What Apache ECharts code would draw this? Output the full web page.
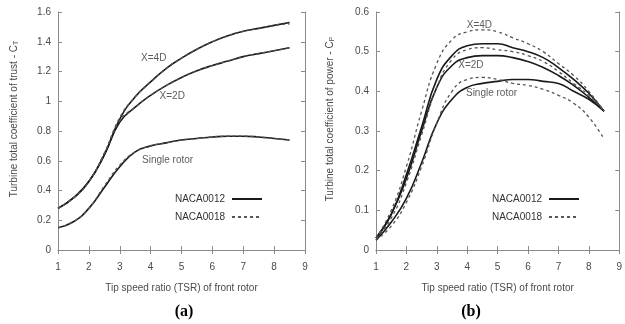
<!DOCTYPE html>
<html>
<head>
<meta charset="utf-8">
<script src="https://cdn.jsdelivr.net/npm/echarts@6/dist/echarts.min.js"></script>
<style>
  html, body { margin: 0; padding: 0; background: #fff; }
  #chart { width: 625px; height: 324px; }
</style>
</head>
<body>
<div id="chart"></div>
<script>
// tip speed ratio samples (x)
const tsr = [1, 1.5, 2, 2.5, 3, 3.5, 4, 4.5, 5, 5.5, 6, 6.5, 7, 7.5, 8, 8.5];

// (a) thrust coefficient C_T
const ct4D12 = [0.28, 0.35, 0.46, 0.64, 0.88, 1.03, 1.13, 1.22, 1.29, 1.35, 1.40, 1.44, 1.47, 1.49, 1.51, 1.53];
const ct2D12 = [0.28, 0.35, 0.46, 0.64, 0.86, 0.96, 1.04, 1.105, 1.16, 1.205, 1.24, 1.27, 1.30, 1.32, 1.34, 1.36];
const ctSingle12 = [0.15, 0.19, 0.28, 0.42, 0.56, 0.66, 0.70, 0.72, 0.74, 0.75, 0.76, 0.765, 0.765, 0.76, 0.75, 0.74];
const ct4D18 = [0.28, 0.35, 0.46, 0.65, 0.89, 1.03, 1.13, 1.22, 1.29, 1.35, 1.40, 1.44, 1.47, 1.49, 1.51, 1.52];
const ct2D18 = [0.28, 0.35, 0.46, 0.65, 0.87, 0.96, 1.04, 1.105, 1.16, 1.205, 1.24, 1.27, 1.30, 1.32, 1.34, 1.36];
const ctSingle18 = [0.15, 0.19, 0.28, 0.43, 0.57, 0.66, 0.70, 0.72, 0.74, 0.75, 0.76, 0.765, 0.765, 0.76, 0.75, 0.74];

// (b) power coefficient C_P
const cp4D12 = [0.03, 0.09, 0.19, 0.31, 0.43, 0.49, 0.515, 0.52, 0.52, 0.51, 0.50, 0.485, 0.46, 0.43, 0.395, 0.35];
const cp2D12 = [0.03, 0.09, 0.18, 0.30, 0.41, 0.465, 0.485, 0.49, 0.49, 0.485, 0.475, 0.46, 0.44, 0.415, 0.385, 0.35];
const cpSingle12 = [0.025, 0.07, 0.13, 0.22, 0.32, 0.38, 0.41, 0.42, 0.425, 0.43, 0.43, 0.425, 0.42, 0.40, 0.38, 0.35];
const cp4D18 = [0.03, 0.10, 0.21, 0.35, 0.47, 0.53, 0.55, 0.555, 0.55, 0.535, 0.52, 0.50, 0.47, 0.44, 0.40, 0.35];
const cp2D18 = [0.03, 0.08, 0.17, 0.29, 0.41, 0.48, 0.505, 0.51, 0.505, 0.50, 0.49, 0.475, 0.45, 0.42, 0.39, 0.35];
const cpSingle18 = [0.025, 0.06, 0.12, 0.21, 0.32, 0.40, 0.43, 0.435, 0.43, 0.42, 0.415, 0.405, 0.39, 0.37, 0.335, 0.28];

const legendNames = ['NACA0012', 'NACA0018'];
const xTitle = 'Tip speed ratio (TSR) of front rotor';

// curve annotations: [text, tsr, value]
const notesA = [['X=4D', 4.1, 1.29], ['X=2D', 4.7, 1.035], ['Single rotor', 4.55, 0.605]];
const notesB = [['X=4D', 4.4, 0.567], ['X=2D', 4.12, 0.466], ['Single rotor', 4.8, 0.396]];

const chart = echarts.init(document.getElementById('chart'));
const zip = (ys) => tsr.map((x, i) => [x, ys[i]]);
const gray = '#4a4a4a';
const frame = '#8a8a8a';

function solid(ys, idx) {
  return {
    type: 'line', name: legendNames[0], data: zip(ys), smooth: 0.5, symbol: 'none',
    xAxisIndex: idx * 2, yAxisIndex: idx * 2,
    lineStyle: { color: '#1a1a1a', width: 1.6 }, itemStyle: { color: '#1a1a1a' }, z: 3,
  };
}
function dashed(ys, idx) {
  return {
    type: 'line', name: legendNames[1], data: zip(ys), smooth: 0.5, symbol: 'none',
    xAxisIndex: idx * 2, yAxisIndex: idx * 2,
    lineStyle: { color: '#555', width: 1.3, type: [3, 3] }, itemStyle: { color: '#555' }, z: 4,
  };
}
function notes(list, idx) {
  return {
    type: 'scatter', xAxisIndex: idx * 2, yAxisIndex: idx * 2, symbolSize: 0, silent: true,
    data: list.map((n) => ({ value: [n[1], n[2]], name: n[0] })),
    label: { show: true, position: 'inside', formatter: '{b}', color: '#333', fontSize: 10, fontFamily: 'Liberation Sans' },
  };
}

const axisText = { color: gray, fontSize: 10, fontFamily: 'Liberation Sans' };
function xAxes(idx) {
  return [
    {
      type: 'value', gridIndex: idx, min: 1, max: 9, interval: 1, position: 'bottom',
      name: xTitle, nameLocation: 'middle', nameGap: 33, nameTextStyle: axisText,
      axisLine: { lineStyle: { color: frame } },
      axisTick: { inside: true, length: 4, lineStyle: { color: frame } },
      axisLabel: { ...axisText, margin: 12 }, splitLine: { show: false },
    },
    {
      type: 'value', gridIndex: idx, min: 1, max: 9, interval: 1, position: 'top',
      axisLine: { lineStyle: { color: frame } },
      axisTick: { inside: true, length: 4, lineStyle: { color: frame } },
      axisLabel: { show: false }, splitLine: { show: false },
    },
  ];
}
function yAxes(idx, max, step, title, gap) {
  return [
    {
      type: 'value', gridIndex: idx, min: 0, max: max, interval: step, position: 'left',
      name: title, nameLocation: 'middle', nameGap: gap,
      nameTextStyle: {
        ...axisText, padding: [0, 0, 0, 24],
        rich: { sub: { fontSize: 7, color: gray, fontFamily: 'Liberation Sans', padding: [5, 0, 0, 0] } },
      },
      axisLine: { lineStyle: { color: frame } },
      axisTick: { inside: true, length: 4, lineStyle: { color: frame } },
      axisLabel: { ...axisText, margin: 7 }, splitLine: { show: false },
    },
    {
      type: 'value', gridIndex: idx, min: 0, max: max, interval: step, position: 'right',
      axisLine: { lineStyle: { color: frame } },
      axisTick: { inside: true, length: 4, lineStyle: { color: frame } },
      axisLabel: { show: false }, splitLine: { show: false },
    },
  ];
}
function legend(right) {
  return {
    data: legendNames, orient: 'vertical', align: 'right', right: right, top: 194,
    itemWidth: 30, itemHeight: 8, itemGap: 8, padding: 0, selectedMode: false,
    itemStyle: { opacity: 0 },
    textStyle: { ...axisText, color: '#333', padding: [0, 2, 0, 0] },
  };
}

chart.setOption({
  animation: false,
  grid: [
    { left: 58, top: 12, width: 247, height: 238 },
    { left: 376, top: 12, width: 247, height: 238 },
  ],
  xAxis: [...xAxes(0), ...xAxes(1)],
  yAxis: [
    ...yAxes(0, 1.6, 0.2, 'Turbine total coefficient of trust - C{sub|T}', 38),
    ...yAxes(1, 0.6, 0.1, 'Turbine total coefficient of power - C{sub|P}', 40),
  ],
  legend: [legend(362), legend(45)],
  series: [
    solid(ct4D12, 0), solid(ct2D12, 0), solid(ctSingle12, 0),
    dashed(ct4D18, 0), dashed(ct2D18, 0), dashed(ctSingle18, 0),
    notes(notesA, 0),
    solid(cp4D12, 1), solid(cp2D12, 1), solid(cpSingle12, 1),
    dashed(cp4D18, 1), dashed(cp2D18, 1), dashed(cpSingle18, 1),
    notes(notesB, 1),
  ],
  graphic: [
    { type: 'text', x: 184, y: 312, style: { text: '(a)', align: 'center', verticalAlign: 'middle', font: 'bold 16px "Liberation Serif"', fill: '#000' } },
    { type: 'text', x: 471, y: 312, style: { text: '(b)', align: 'center', verticalAlign: 'middle', font: 'bold 16px "Liberation Serif"', fill: '#000' } },
  ],
});
</script>
</body>
</html>
